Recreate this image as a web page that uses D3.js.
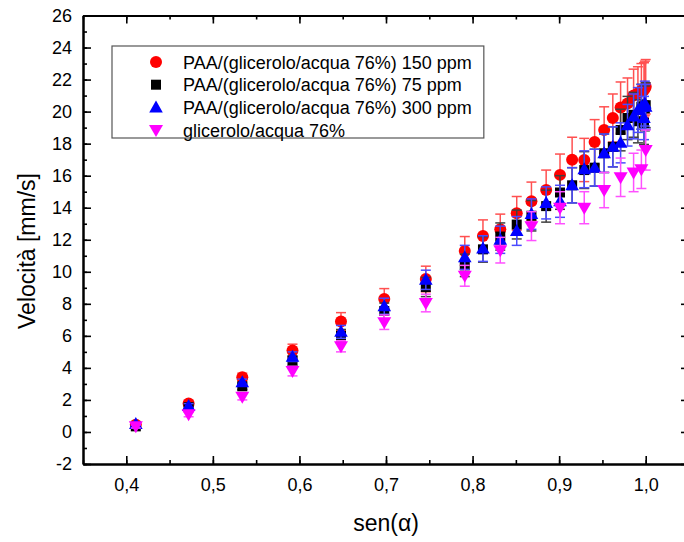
<!DOCTYPE html>
<html><head><meta charset="utf-8">
<script src="https://cdn.jsdelivr.net/npm/d3@7"></script>
<style>body{margin:0;background:#fff;} svg{display:block;font-family:Arial,"Liberation Sans",sans-serif;}</style>
</head><body>
<svg id="c" width="684" height="542"></svg>
<script>
// sin(alpha) positions
const sinA = [0.411,0.472,0.534,0.592,0.648,0.698,0.746,0.791,0.812,0.832,0.851,0.868,0.885,0.901,0.915,0.929,0.941,0.952,0.962,0.971,0.979,0.986,0.991,0.995,0.998,0.999,1.0];
const seriesNames = ["PAA/(glicerolo/acqua 76%) 150 ppm","PAA/(glicerolo/acqua 76%) 75 ppm","PAA/(glicerolo/acqua 76%) 300 ppm","glicerolo/acqua 76%"];
const v150 = [0.45,1.78,3.42,5.08,6.9,8.3,9.55,11.3,12.24,12.65,13.65,14.4,15.1,16.05,17.0,16.98,18.1,18.85,19.6,20.25,20.5,21.0,21.15,21.3,21.35,21.45,21.55];
const e150 = [0.1,0.15,0.25,0.4,0.55,0.65,0.8,0.9,1.0,0.95,1.05,1.2,1.25,1.3,1.4,1.35,1.4,1.45,1.5,1.6,1.6,1.65,1.65,1.7,1.7,1.7,1.7];
const v75 = [0.35,1.55,2.85,4.45,6.0,7.55,9.05,10.4,11.4,12.2,12.95,13.5,14.1,14.95,15.4,16.35,16.5,17.4,17.8,18.85,19.6,19.8,19.4,20.3,19.3,20.2,20.4];
const e75 = [0.1,0.15,0.2,0.3,0.4,0.5,0.6,0.7,0.8,0.85,0.9,0.95,1.0,1.05,1.1,1.15,1.15,1.2,1.25,1.3,1.35,1.4,1.35,1.4,1.35,1.4,1.4];
const v300 = [0.5,1.62,3.1,4.7,6.25,7.85,9.5,10.9,11.45,12.0,12.55,13.6,14.3,14.4,15.4,16.4,16.5,17.4,17.8,18.05,19.15,19.7,20.1,20.3,19.6,20.5,20.3];
const e300 = [0.1,0.15,0.2,0.3,0.4,0.5,0.6,0.75,0.8,0.85,0.9,0.95,1.0,1.0,1.1,1.15,1.15,1.2,1.25,1.25,1.3,1.4,1.4,1.4,1.35,1.4,1.4];
const vGly = [0.35,1.1,2.2,3.8,5.35,6.85,8.05,9.75,null,11.35,null,12.85,null,14.0,null,14.0,null,15.1,null,15.9,null,16.2,null,16.4,null,null,17.6];
const eGly = [0.1,0.15,0.2,0.3,0.35,0.45,0.55,0.65,null,0.8,null,0.9,null,1.0,null,1.0,null,1.1,null,1.2,null,1.2,null,1.2,null,null,1.25];
const xMajor = [0.4,0.5,0.6,0.7,0.8,0.9,1.0];
const yMajor = [-2,0,2,4,6,8,10,12,14,16,18,20,22,24,26];
const colors = ["#ff0000","#000000","#0000ff","#ff00ff"];
const errColors = ["#ff5050","#404040","#4a4aff","#ff50ff"];
const shapes = ["circle","square","triangleUp","triangleDown"];

const svg = d3.select("#c");
const L=83, R=689, T=15.5, B=464;
const x = d3.scaleLinear().domain([0.35,1.05]).range([L,R]);
const y = d3.scaleLinear().domain([-2,26]).range([B,T]);
const fmt = d => d3.format(".1f")(d).replace(".",",");

function shapePath(s){
  if(s==="circle") return "M6,0A6,6 0 1,1 -6,0A6,6 0 1,1 6,0Z";
  if(s==="square") return "M-5,-5H5V5H-5Z";
  if(s==="triangleUp") return "M0,-7L6.8,5L-6.8,5Z";
  return "M0,7L7,-5L-7,-5Z";
}

const xMinor = d3.range(0.35,1.0501,0.05);
const yMinor = d3.range(-2,26.01,1);
// axes
const gx = svg.append("g").attr("transform",`translate(0,${B})`)
  .call(d3.axisBottom(x).tickValues(xMajor).tickFormat(fmt).tickSizeInner(-8).tickSizeOuter(0).tickPadding(14));
const gxm = svg.append("g").attr("transform",`translate(0,${B})`)
  .call(d3.axisBottom(x).tickValues(xMinor).tickFormat("").tickSizeInner(-4).tickSizeOuter(0));
const gt = svg.append("g").attr("transform",`translate(0,${T})`)
  .call(d3.axisTop(x).tickValues(xMajor).tickFormat("").tickSizeInner(-8).tickSizeOuter(0));
const gtm = svg.append("g").attr("transform",`translate(0,${T})`)
  .call(d3.axisTop(x).tickValues(xMinor).tickFormat("").tickSizeInner(-4).tickSizeOuter(0));
const gy = svg.append("g").attr("transform",`translate(${L},0)`)
  .call(d3.axisLeft(y).tickValues(yMajor).tickFormat(d=>String(d)).tickSizeInner(-8).tickSizeOuter(0).tickPadding(11));
const gym = svg.append("g").attr("transform",`translate(${L},0)`)
  .call(d3.axisLeft(y).tickValues(yMinor).tickFormat("").tickSizeInner(-4).tickSizeOuter(0));
const gr = svg.append("g").attr("transform",`translate(${R},0)`)
  .call(d3.axisRight(y).tickValues(yMajor).tickFormat("").tickSizeInner(-8).tickSizeOuter(0));
const grm = svg.append("g").attr("transform",`translate(${R},0)`)
  .call(d3.axisRight(y).tickValues(yMinor).tickFormat("").tickSizeInner(-4).tickSizeOuter(0));
[gx,gxm,gt,gtm,gy,gym,gr,grm].forEach(g=>{
  g.selectAll("path.domain").attr("stroke","#000").attr("stroke-width",2);
  g.selectAll(".tick line").attr("stroke","#000").attr("stroke-width",1.6);
  g.selectAll("text").attr("font-size",18).attr("fill","#000").attr("font-family","Arial, 'Liberation Sans', sans-serif");
});

// axis titles
svg.append("text").attr("x",(L+R)/2).attr("y",531).attr("text-anchor","middle")
  .attr("font-size",23).text("sen(α)");
svg.append("text").attr("transform","translate(35,251) rotate(-90)").attr("text-anchor","middle")
  .attr("font-size",23).text("Velocità [mm/s]");

// data
const allV=[v150,v75,v300,vGly], allE=[e150,e75,e300,eGly];
const plot = svg.append("g");
allV.forEach((vals,si)=>{
  const pts = sinA.map((s,i)=>({x:s,v:vals[i],e:allE[si][i]})).filter(d=>d.v!==null);
  const g = plot.append("g");
  const eb = g.append("g").attr("stroke",errColors[si]).attr("stroke-width",1.5);
  pts.forEach(d=>{
    const cx=x(d.x), y1=y(d.v+d.e), y2=y(d.v-d.e);
    eb.append("line").attr("x1",cx).attr("x2",cx).attr("y1",y1).attr("y2",y2);
    eb.append("line").attr("x1",cx-5).attr("x2",cx+5).attr("y1",y1).attr("y2",y1);
    eb.append("line").attr("x1",cx-5).attr("x2",cx+5).attr("y1",y2).attr("y2",y2);
  });
  g.selectAll("path.m").data(pts).join("path").attr("class","m")
    .attr("d",shapePath(shapes[si]))
    .attr("transform",d=>`translate(${x(d.x)},${y(d.v)})`)
    .attr("fill",colors[si]);
});

// legend
const lg = svg.append("g");
const lbox = lg.append("rect").attr("x",112).attr("y",46).attr("height",92).attr("fill","#fff").attr("stroke","#555").attr("stroke-width",1.2);
let maxW=0;
seriesNames.forEach((n,i)=>{
  const cy = 62+i*22.7;
  lg.append("path").attr("d",shapePath(shapes[i])).attr("transform",`translate(156,${cy})`).attr("fill",colors[i]);
  const t = lg.append("text").attr("x",183).attr("y",cy+6.5).attr("font-size",18).text(n);
  maxW = Math.max(maxW, t.node().getComputedTextLength());
});
lbox.attr("width", 183+maxW+12-112);
</script>
</body></html>
